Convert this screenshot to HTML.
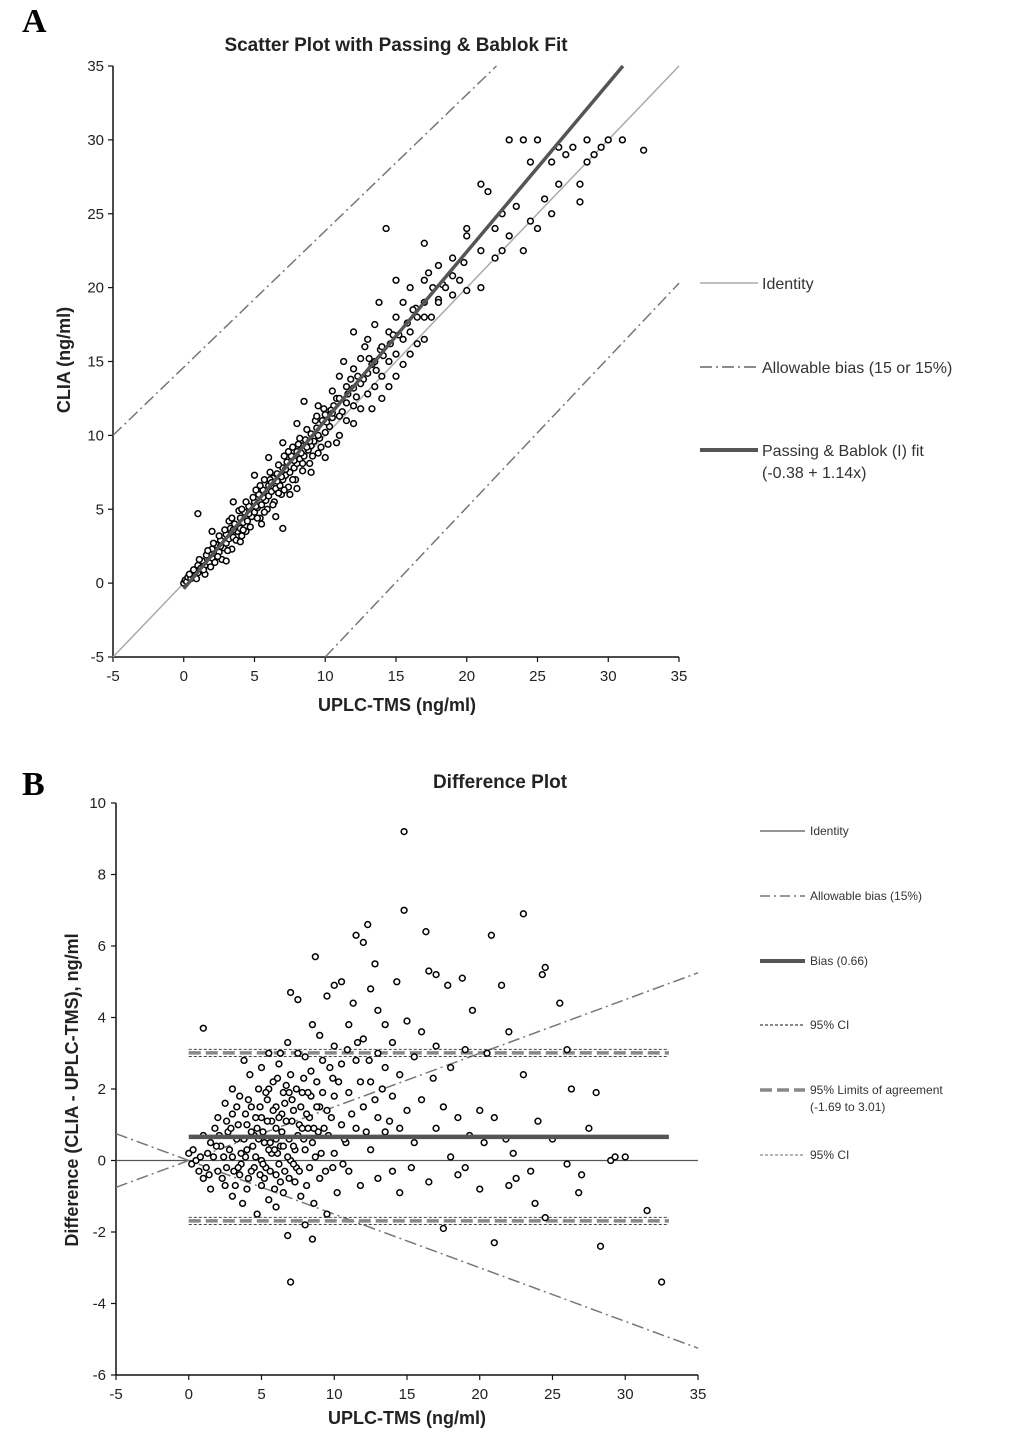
<!DOCTYPE html>
<html><head><meta charset="utf-8"><style>
html,body{margin:0;padding:0;background:#fff}
svg{display:block;font-family:"Liberation Sans",Arial,sans-serif}
</style></head><body>
<svg id="s" width="1034" height="1439" viewBox="0 0 1034 1439" xmlns="http://www.w3.org/2000/svg">
<text x="22" y="32" font-family="Liberation Serif,serif" font-weight="bold" font-size="34">A</text>
<text x="22" y="795" font-family="Liberation Serif,serif" font-weight="bold" font-size="34">B</text>
<text x="396" y="51" text-anchor="middle" font-weight="bold" font-size="19" fill="#222">Scatter Plot with Passing &amp; Bablok Fit</text>
<text x="397" y="711" text-anchor="middle" font-weight="bold" font-size="18" fill="#222">UPLC-TMS (ng/ml)</text>
<text transform="translate(70,360) rotate(-90)" text-anchor="middle" font-weight="bold" font-size="18" fill="#222">CLIA (ng/ml)</text>
<text x="500" y="788" text-anchor="middle" font-weight="bold" font-size="19" fill="#222">Difference Plot</text>
<text x="407" y="1424" text-anchor="middle" font-weight="bold" font-size="18" fill="#222">UPLC-TMS (ng/ml)</text>
<text transform="translate(78,1090) rotate(-90)" text-anchor="middle" font-weight="bold" font-size="18" fill="#222">Difference (CLIA - UPLC-TMS), ng/ml</text>
<g id="ga"></g>
<g id="gb"></g>
<g font-size="16" fill="#333">
<line x1="700" y1="283" x2="758" y2="283" stroke="#aaa" stroke-width="1.5"/>
<text x="762" y="289">Identity</text>
<line x1="700" y1="367" x2="758" y2="367" stroke="#666" stroke-width="1.5" stroke-dasharray="12,4,2,4"/>
<text x="762" y="373">Allowable bias (15 or 15%)</text>
<line x1="700" y1="450" x2="758" y2="450" stroke="#555" stroke-width="4"/>
<text x="762" y="456">Passing &amp; Bablok (I) fit</text>
<text x="762" y="478">(-0.38 + 1.14x)</text>
</g>
<g font-size="12" fill="#333">
<line x1="760" y1="831" x2="805" y2="831" stroke="#555" stroke-width="1.2"/>
<text x="810" y="835">Identity</text>
<line x1="760" y1="896" x2="805" y2="896" stroke="#777" stroke-width="1.5" stroke-dasharray="10,4,2,4"/>
<text x="810" y="900">Allowable bias (15%)</text>
<line x1="760" y1="961" x2="805" y2="961" stroke="#555" stroke-width="4"/>
<text x="810" y="965">Bias (0.66)</text>
<line x1="760" y1="1025" x2="805" y2="1025" stroke="#444" stroke-width="1.2" stroke-dasharray="3,2"/>
<text x="810" y="1029">95% CI</text>
<line x1="760" y1="1090" x2="805" y2="1090" stroke="#888" stroke-width="3.5" stroke-dasharray="12,5"/>
<text x="810" y="1094">95% Limits of agreement</text>
<text x="810" y="1111">(-1.69 to 3.01)</text>
<line x1="760" y1="1155" x2="805" y2="1155" stroke="#888" stroke-width="1.2" stroke-dasharray="3,2"/>
<text x="810" y="1159">95% CI</text>
</g>
</svg>
<script>
const aTicks=[-5,0,5,10,15,20,25,30,35];
const bXTicks=[-5,0,5,10,15,20,25,30,35];
const bYTicks=[-6,-4,-2,0,2,4,6,8,10];
const aFitIntercept=-0.38, aFitSlope=1.14;
const aUpperBias=[[-5,10],[22.1,35]];
const aLowerBias=[[10,-5],[35,20.3]];
const bBias=0.66, bLoaHi=3.01, bLoaLo=-1.69, bCI=0.1, bAllow=0.15;
const aPoints=[[0,0],[0.1,0.2],[0.2,0.1],[0.3,0.4],[0.5,0.3],[0.6,0.7],[0.8,0.5],[1,1.2],[1,0.7],[1.2,1],[1.3,1.5],[1.5,1.2],[1.6,1.9],[1.8,1.4],[2,2.3],[2,1.7],[2.2,2],[2.3,2.6],[2.5,2.1],[2.6,2.9],[2.8,2.4],[3,3.3],[3,2.7],[3.2,3],[3.3,3.7],[3.5,3.1],[3.6,4],[3.8,3.5],[4,4.4],[4,3.7],[4.2,4.1],[4.3,4.8],[4.5,4.2],[4.6,5.2],[4.8,4.5],[5,5.5],[5,4.8],[5.2,5.1],[5.3,6],[5.5,5.3],[5.6,6.3],[5.8,5.6],[6,6.6],[6,5.9],[6.2,6.2],[6.3,7.1],[6.5,6.4],[6.6,7.4],[6.8,6.6],[7,7.8],[7,7],[7.2,7.3],[7.3,8.2],[7.5,7.5],[7.6,8.6],[7.8,7.8],[8,8.9],[8,8.1],[8.2,8.4],[8.3,9.3],[8.5,8.6],[8.6,9.7],[8.8,9],[9,10.1],[9,9.3],[9.2,9.6],[9.4,10.5],[9.6,9.8],[9.8,11],[10,10.2],[10,11.4],[10.3,10.6],
[1.5,0.6],[2.5,3.2],[2.7,1.6],[3.2,4.2],[3.4,2.3],[3.9,4.9],[4.1,3.2],[4.4,5.5],[4.7,3.8],[5.1,6.3],[5.4,4.4],[5.7,7],[5.9,5],[6.1,7.5],[6.4,5.5],[6.7,8],[6.9,6],[7.1,8.6],[7.4,6.5],[7.7,9.2],[7.9,7],[8.2,9.8],[8.4,7.6],[8.7,10.4],[8.9,8.1],[9.3,11],[9.5,8.8],[9.9,11.8],[10.2,9.4],[10.6,12],
[0.4,0.6],[0.7,0.9],[0.9,0.3],[1.1,1.6],[1.4,0.9],[1.7,2.2],[1.9,1.1],[2.1,2.7],[2.4,1.8],[2.9,3.6],[3.1,2.2],[3.4,4.4],[3.7,2.9],[4.1,5],[4.4,3.5],[4.9,5.8],[5.2,4.4],[5.4,6.6],[5.7,4.8],[6.1,7],[6.3,5.3],[6.6,6.9],[6.9,7.2],[7.1,6.3],[7.4,8.9],[7.7,7],[8.1,9.4],[8.4,8.1],[8.7,9.2],[9.1,8.6],[9.4,11.3],[9.7,9.2],[10.1,10.9],[10.5,11.2],[10.8,12.5],[11.2,11.6],[11.6,12.8],[12,13.2],[12.3,14],[12.7,13.8],[13.1,15.2],[13.6,14.4],[14.1,15.4],[14.6,16.2],[15.2,16.8],[15.8,17.6],[16.4,18.6],[17,18],[17.6,20],[18.3,20.2],[19,20.8],[19.8,21.7],
[2.2,1.4],[2.6,2.5],[3.5,3.6],[4.2,3.6],[4.6,4.7],[5.1,5.2],[5.6,5.8],[6.2,6.8],[6.7,6.1],[7.2,7.7],[7.8,8.3],[8.3,8.8],[8.9,9.6],[9.5,10],[10.4,11.7],[11,11.3],[11.5,12.2],[12.2,12.6],[13.3,14.8],[13.9,15.8],
[1,4.7],[2,3.5],[3,1.5],[3.5,5.5],[4,2.8],[5,7.3],[5.5,4],[6,8.5],[6.5,4.5],[7,3.7],[7,9.5],[7.5,6],[8,10.8],[8,6.4],[8.5,12.3],[9,7.5],[9.5,12],[10,8.5],[10.5,13],[10.5,11.5],[11,10],[11,12.5],[11,14],[11.5,11],[11.5,13.3],[12,12],[12,14.5],[12,10.8],[12.5,13.5],[12.5,15.2],[12.5,11.8],[13,12.8],[13,14.2],[13,16.5],[13.5,13.3],[13.5,15],[13.5,17.5],[14,14],[14,16],[14,12.5],[14.3,24],[14.5,15],[14.5,17],[14.5,13.3],[15,15.5],[15,18],[15,14],[15.5,16.5],[15.5,19],[15.5,14.8],[16,17],[16,15.5],[16,20],[16.5,18],[16.5,16.2],[17,19],[17,20.5],[17,16.5],[17.3,21],[17.5,18],[18,19.2],[18,21.5],[18.5,20],[19,22],[19,19.5],[19.5,20.5],[20,23.5],[20,19.8],[20,24],[21,22.5],[21,27],[21,20],[21.5,26.5],[22,24],[22,22],[22.5,25],[23,30],[23,23.5],[23.5,25.5],[24,30],[24,22.5],[24.5,28.5],[25,24],[25,30],[25.5,26],[26,28.5],[26,25],[26.5,27],[27,29],[27.5,29.5],[28,27],[28,25.8],[28.5,30],[28.5,28.5],[29,29],[29.5,29.5],[30,30],[31,30],[32.5,29.3],[26.5,29.5],[22.5,22.5],[24.5,24.5],[12,17],[13.8,19],[15,20.5],[17,23],[18,19],[11.3,15],[12.8,16],[13.3,11.8],[14.8,16.8],[16.2,18.5],[10.8,9.5],[11.8,13.8]];
const bPoints=[[0,0.2],[0.2,-0.1],[0.3,0.3],[0.5,0],[0.7,-0.3],[1,0.7],[1,3.7],[1,-0.5],[1.3,0.2],[1.5,-0.8],[1.5,0.5],[1.8,0.9],[2,-0.3],[2,1.2],[2.2,0.4],[2.5,-0.7],[2.5,1.6],[2.7,0.8],[3,-1],[3,0.1],[3,1.3],[3,2],[3.3,0.6],[3.5,-0.4],[3.5,1.8],[3.7,-1.2],[3.8,2.8],[4,0.3],[4,1],[4,-0.8],[4.2,2.4],[4.3,1.5],[4.5,-0.2],[4.5,0.7],[4.7,-1.5],[4.8,2],[5,0],[5,1.2],[5,-0.7],[5,2.6],[5.2,0.5],[5.4,1.7],[5.5,-1.1],[5.5,3],[5.7,0.2],[5.8,2.2],[6,-0.4],[6,0.9],[6,1.5],[6,-1.3],[6.2,2.7],[6.3,0.4],[6.5,1.9],[6.5,-0.9],[6.7,1.1],[6.8,3.3],[6.8,-2.1],[7,0],[7,2.4],[7,4.7],[7,-3.4],[7.2,1.4],[7.3,-0.6],[7.5,4.5],[7.5,0.7],[7.5,3],[7.7,-1],[7.8,1.9],[8,0.3],[8,2.9],[8,-1.8],[8.3,1.2],[8.5,3.8],[8.5,-2.2],[8.5,0.5],[8.7,5.7],[8.8,2.2],[9,-0.5],[9,1.5],[9,3.5],[9.3,0.9],[9.5,4.6],[9.5,-1.5],[9.7,2.6],[10,0.2],[10,1.8],[10,3.2],[10,4.9],[10.2,-0.9],[10.5,1],[10.5,2.7],[10.5,5],[10.8,0.5],[11,3.8],[11,-0.3],[11,1.9],[11.3,4.4],[11.5,0.9],[11.5,2.8],[11.5,6.3],[11.8,-0.7],[12,1.5],[12,3.4],[12,6.1],[12.3,6.6],[12.5,0.3],[12.5,2.2],[12.5,4.8],[12.8,5.5],[13,-0.5],[13,1.2],[13,3],[13,4.2],[13.5,0.8],[13.5,2.6],[13.5,3.8],[14,-0.3],[14,1.8],[14,3.3],[14.3,5],[14.5,-0.9],[14.5,0.9],[14.5,2.4],[14.8,9.2],[14.8,7],[15,3.9],[15,1.4],[15.3,-0.2],[15.5,2.9],[15.5,0.5],[16,1.7],[16,3.6],[16.3,6.4],[16.5,5.3],[16.5,-0.6],[16.8,2.3],[17,0.9],[17,5.2],[17,3.2],[17.5,-1.9],[17.5,1.5],[17.8,4.9],[18,0.1],[18,2.6],[18.5,-0.4],[18.5,1.2],[18.8,5.1],[19,3.1],[19.3,0.7],[19.5,4.2],[20,1.4],[20,-0.8],[20.5,3],[20.8,6.3],[21,-2.3],[21,1.2],[21.5,4.9],[21.8,0.6],[22,3.6],[22.3,0.2],[22.5,-0.5],[23,6.9],[23,2.4],[23.5,-0.3],[23.8,-1.2],[24,1.1],[24.3,5.2],[24.5,5.4],[24.5,-1.6],[25,0.6],[25.5,4.4],[26,3.1],[26,-0.1],[26.3,2],[26.8,-0.9],[27,-0.4],[27.5,0.9],[28,1.9],[28.3,-2.4],[29,0],[29.3,0.1],[30,0.1],[31.5,-1.4],[32.5,-3.4],[19,-0.2],[20.3,0.5],[22,-0.7],
[1.2,-0.2],[1.7,0.1],[2.3,-0.5],[2.8,0.3],[3.1,-0.3],[3.4,1],[3.9,0.1],[4.1,-0.5],[4.4,0.4],[4.6,1.2],[4.9,-0.4],[5.1,0.8],[5.3,-0.2],[5.6,0.5],[5.9,-0.8],[6.1,0.2],[6.4,1.3],[6.6,-0.3],[6.9,0.6],[7.1,1.7],[7.4,-0.2],[7.6,1],[7.9,2.3],[8.1,-0.7],[8.4,1.8],[8.6,-1.2],[8.9,0.8],[9.2,2.8],[9.4,-0.3],[9.8,1.2],[2.1,0.7],[3.6,0.2],[5.7,1.1],[6.2,-0.1],[6.7,2.1],[7.3,0.3],[8.2,0.9],[4.8,0.6],[5.5,2],[6.3,3],
[0.8,0.1],[1.4,-0.4],[1.9,0.4],[2.4,0.1],[2.6,-0.2],[2.9,0.9],[3.2,-0.7],[3.3,1.5],[3.6,-0.1],[3.8,0.6],[4.1,1.7],[4.3,-0.3],[4.6,0.1],[4.7,0.9],[4.9,1.5],[5.2,-0.5],[5.3,1.9],[5.5,0.3],[5.6,-0.3],[5.8,1.4],[6,0.6],[6.1,2.3],[6.3,-0.6],[6.4,0.8],[6.6,1.6],[6.8,0.1],[6.9,-0.5],[7.1,1.1],[7.2,0.4],[7.4,2],[7.6,-0.3],[7.7,1.5],[7.9,0.6],[8.1,1.3],[8.3,-0.2],[8.4,2.5],[8.6,0.9],[8.8,1.5],[9.1,0.2],[9.2,1.9],[9.6,0.7],[9.9,2.3],[3.4,-0.2],[4.3,0.8],[5.1,-0.1],[5.9,0.3],[6.5,0.4],[7.2,-0.1],[7.8,0.9],[8.7,0.1],[2.6,1.1],[3.9,1.3],[5.4,1.1],[6.2,1.2],[6.9,1.9],[8.2,1.9],[9.5,1.4],[10.3,2.2],[10.6,-0.1],[11.2,1.3],[11.8,2.2],[12.2,0.8],[12.8,1.7],[13.3,2],[13.8,1.1],[10.9,3.1],[11.6,3.3],[12.4,2.8],[9.9,-0.2],[10.7,0.6]];

const NS='http://www.w3.org/2000/svg';
function el(tag,attrs,parent){const e=document.createElementNS(NS,tag);for(const k in attrs)e.setAttribute(k,attrs[k]);parent.appendChild(e);return e;}

// Chart A
const ga=document.getElementById('ga');
const ax=v=>113+(v+5)*(679-113)/40;
const ay=v=>657-(v+5)*(657-66)/40;
let e;
e=el('line',{x1:ax(-5),y1:ay(-5),x2:ax(-5),y2:ay(35),stroke:'#111','stroke-width':1.5},ga);


e=el('line',{x1:ax(-5),y1:ay(-5),x2:ax(35),y2:ay(-5),stroke:'#111','stroke-width':1.5},ga);


aTicks.forEach(t=>{
  el('line',{x1:ax(-5)-5,y1:ay(t),x2:ax(-5),y2:ay(t),stroke:'#111','stroke-width':1.2},ga);
  el('line',{x1:ax(t),y1:ay(-5),x2:ax(t),y2:ay(-5)+5,stroke:'#111','stroke-width':1.2},ga);
  e=el('text',{x:ax(-5)-9,y:ay(t)+5,'text-anchor':'end','font-size':15,fill:'#222'},ga);e.textContent=t;
  
  
  e=el('text',{x:ax(t),y:ay(-5)+24,'text-anchor':'middle','font-size':15,fill:'#222'},ga);e.textContent=t;
  
  
});
e=el('line',{x1:ax(-5),y1:ay(-5),x2:ax(35),y2:ay(35),stroke:'#aaa','stroke-width':1.5},ga);


e=el('line',{x1:ax(aUpperBias[0][0]),y1:ay(aUpperBias[0][1]),x2:ax(aUpperBias[1][0]),y2:ay(aUpperBias[1][1]),stroke:'#777','stroke-width':1.5,'stroke-dasharray':'12,4,2,4'},ga);


e=el('line',{x1:ax(aLowerBias[0][0]),y1:ay(aLowerBias[0][1]),x2:ax(aLowerBias[1][0]),y2:ay(aLowerBias[1][1]),stroke:'#777','stroke-width':1.5,'stroke-dasharray':'12,4,2,4'},ga);


aPoints.forEach(p=>{
  const c=el('circle',{cx:ax(p[0]),cy:ay(p[1]),r:2.9,fill:'#fff',stroke:'#000','stroke-width':1.5},ga);
  
  
});
const xEnd=(35-aFitIntercept)/aFitSlope;
e=el('line',{x1:ax(0),y1:ay(aFitIntercept),x2:ax(xEnd),y2:ay(35),stroke:'#555','stroke-width':3.5},ga);



// Chart B
const gb=document.getElementById('gb');
const bx=v=>116+(v+5)*(698-116)/40;
const by=v=>1375-(v+6)*(1375-803)/16;
e=el('line',{x1:bx(-5),y1:by(-6),x2:bx(-5),y2:by(10),stroke:'#111','stroke-width':1.5},gb);


e=el('line',{x1:bx(-5),y1:by(-6),x2:bx(35),y2:by(-6),stroke:'#111','stroke-width':1.5},gb);


bYTicks.forEach(t=>{
  el('line',{x1:bx(-5)-5,y1:by(t),x2:bx(-5),y2:by(t),stroke:'#111','stroke-width':1.2},gb);
  e=el('text',{x:bx(-5)-10,y:by(t)+5,'text-anchor':'end','font-size':15,fill:'#222'},gb);e.textContent=t;
  
  
});
bXTicks.forEach(t=>{
  el('line',{x1:bx(t),y1:by(-6),x2:bx(t),y2:by(-6)+5,stroke:'#111','stroke-width':1.2},gb);
  e=el('text',{x:bx(t),y:by(-6)+24,'text-anchor':'middle','font-size':15,fill:'#222'},gb);e.textContent=t;
  
  
});
e=el('line',{x1:bx(-5),y1:by(0),x2:bx(35),y2:by(0),stroke:'#555','stroke-width':1.2},gb);


e=el('line',{x1:bx(-5),y1:by(-5*bAllow),x2:bx(35),y2:by(35*bAllow),stroke:'#777','stroke-width':1.5,'stroke-dasharray':'12,4,2,4'},gb);


e=el('line',{x1:bx(-5),y1:by(5*bAllow),x2:bx(35),y2:by(-35*bAllow),stroke:'#777','stroke-width':1.5,'stroke-dasharray':'12,4,2,4'},gb);


[bLoaHi,bLoaLo].forEach(v=>{
  [v-bCI,v+bCI].forEach(w=>{
    e=el('line',{x1:bx(0),y1:by(w),x2:bx(33),y2:by(w),stroke:'#444','stroke-width':1,'stroke-dasharray':'3,2'},gb);
    
    
  });
  e=el('line',{x1:bx(0),y1:by(v),x2:bx(33),y2:by(v),stroke:'#888','stroke-width':3.5,'stroke-dasharray':'12,5'},gb);
  
  
});
bPoints.forEach(p=>{
  const c=el('circle',{cx:bx(p[0]),cy:by(p[1]),r:2.9,fill:'#fff',stroke:'#000','stroke-width':1.5},gb);
  
  
});
e=el('line',{x1:bx(0),y1:by(bBias),x2:bx(33),y2:by(bBias),stroke:'#555','stroke-width':4.5},gb);


</script>
</body></html>
